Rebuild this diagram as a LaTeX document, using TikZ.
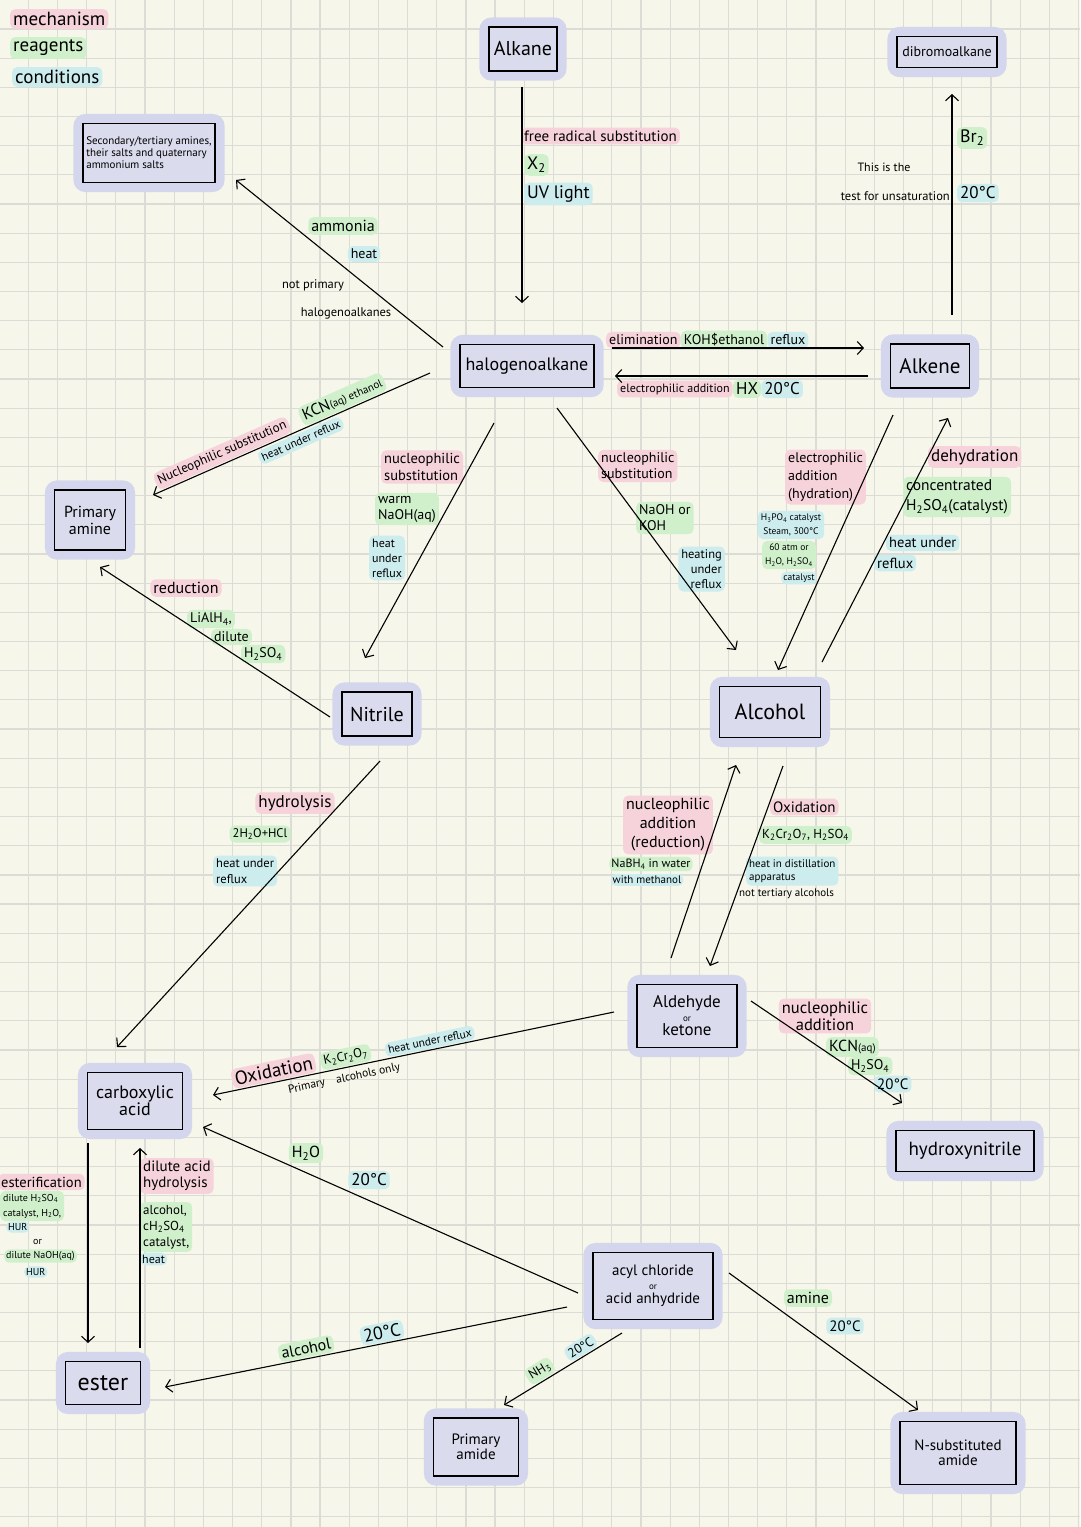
\documentclass[tikz,border=0pt]{standalone}
\usepackage{fontspec}
\setmainfont{PT Sans}
\usetikzlibrary{arrows.meta,fit}
\pgfdeclarelayer{gridl}
\pgfdeclarelayer{blobl}
\pgfsetlayers{gridl,blobl,main}
\definecolor{bgcol}{RGB}{246,246,234}
\definecolor{gridcol}{RGB}{219,220,213}
\definecolor{blobcol}{RGB}{211,214,236}
\definecolor{boxfill}{RGB}{218,220,238}
\definecolor{pinkhl}{RGB}{246,210,218}
\definecolor{greenhl}{RGB}{208,240,204}
\definecolor{bluehl}{RGB}{204,236,238}
\newcommand\fz[2]{\fontsize{#1}{#2}\selectfont}
\newcommand\sbs[1]{\textsubscript{#1}}
\begin{document}
\begin{tikzpicture}[x=1pt,y=-1pt,
 box/.style={draw, line width=1.2pt, fill=boxfill, inner sep=1pt, align=center},
 blob/.style={fill=blobcol, rounded corners=12pt, inner sep=9pt},
 hp/.style={fill=pinkhl, rounded corners=5pt, inner sep=3pt},
 hg/.style={fill=greenhl, rounded corners=5pt, inner sep=3pt},
 hb/.style={fill=bluehl, rounded corners=5pt, inner sep=3pt},
 pl/.style={inner sep=2pt},
 arr/.style={-{Straight Barb[length=6pt,width=13pt]}, line width=1.1pt},
]
\useasboundingbox (0,0) rectangle (1080,1527);
\begin{pgfonlayer}{gridl}
\fill[bgcol] (0,0) rectangle (1080,1527);
\foreach \k in {0,...,37} \draw[gridcol, line width=1.2pt] ({-0.8+29.17*\k},0) -- ({-0.8+29.17*\k},1527);
\foreach \k in {0,...,52} \draw[gridcol, line width=1.2pt] (0,{-0.2+29.17*\k}) -- (1080,{-0.2+29.17*\k});
\end{pgfonlayer}

% legend
\node[hp, anchor=west, font=\fz{19}{19}] (lg1) at (10,19) {mechanism};
\node[hg, anchor=west, font=\fz{19}{19}] (lg2) at (10,48) {reagents};
\node[hb, anchor=west, font=\fz{19}{19}] (lg3) at (12,77) {conditions};

% boxes
\node[box, minimum width=68pt, minimum height=44pt, font=\fz{20}{20}] (alk) at (523,49) {Alkane};
\node[box, minimum width=100pt, minimum height=31pt, font=\fz{14}{14}] (dib) at (947,52) {dibromoalkane};
\node[box, minimum width=134pt, minimum height=43pt, font=\fz{18}{18}] (halo) at (527,366) {halogenoalkane};
\node[box, minimum width=79pt, minimum height=44pt, font=\fz{21}{21}] (alke) at (930,366) {Alkene};
\node[box, minimum width=132pt, minimum height=59pt, font=\fz{11}{12}, align=left] (sec) at (149,153) {Secondary/tertiary amines,\\their salts and quaternary\\ammonium salts};
\node[box, minimum width=71pt, minimum height=60pt, font=\fz{16}{17}] (pam) at (90,520) {Primary\\amine};
\node[box, minimum width=70pt, minimum height=44pt, font=\fz{20}{20}] (nit) at (377,714) {Nitrile};
\node[box, minimum width=101pt, minimum height=51pt, font=\fz{22}{22}] (alc) at (770,712) {Alcohol};
\node[box, minimum width=100pt, minimum height=63pt, font=\fz{17}{14}] (ald) at (687,1016) {Aldehyde\\{\fz{9}{9}or}\\ketone};
\node[box, minimum width=138pt, minimum height=41pt, font=\fz{19}{19}] (hyd) at (965,1151) {hydroxynitrile};
\node[box, minimum width=95pt, minimum height=57pt, font=\fz{18}{17}] (carb) at (135,1101) {carboxylic\\acid};
\node[box, minimum width=75pt, minimum height=43pt, font=\fz{24}{24}] (est) at (103,1383) {ester};
\node[box, minimum width=120pt, minimum height=67pt, font=\fz{15}{14}] (acyl) at (653,1286) {acyl chloride\\{\fz{9}{9}or}\\acid anhydride};
\node[box, minimum width=85pt, minimum height=58pt, font=\fz{15}{15}] (pamd) at (476,1447) {Primary\\amide};
\node[box, minimum width=116pt, minimum height=63pt, font=\fz{15}{15}] (nsub) at (958,1453) {N-substituted\\amide};

\begin{pgfonlayer}{blobl}
\foreach \b in {alk,dib,halo,alke,sec,pam,nit,alc,ald,hyd,carb,est,acyl,pamd,nsub}
  \node[blob, fit=(\b)] (blob-\b) {};
\end{pgfonlayer}

% labels
\node[hp, anchor=west, font=\fz{15}{15}] (l1a) at (521,136) {free radical substitution};
\node[hg, anchor=west, font=\fz{18}{18}] (l1b) at (524,165) {X\sbs{2}};
\node[hb, anchor=west, font=\fz{18}{18}] (l1c) at (524,194) {UV light};

\node[hg, anchor=west, font=\fz{18}{18}] (l4a) at (957,138) {Br\sbs{2}};
\node[hb, anchor=west, font=\fz{17}{17}] (l4b) at (957,193) {20°C};
\node[pl, font=\fz{12}{12}] (l4c) at (884,167) {This is the};
\node[pl, anchor=east, font=\fz{12.5}{12.5}] (l4d) at (952,196) {test for unsaturation};

\node[hp, anchor=west, font=\fz{14}{14}] (l2a) at (606,340) {elimination};
\node[hg, anchor=west, font=\fz{14}{14}] (l2b) at (l2a.east) {KOH\$ethanol};
\node[hb, anchor=west, font=\fz{14}{14}] (l2c) at (l2b.east) {reflux};

\node[hp, anchor=west, font=\fz{12}{12}] (l3a) at (617,389) {electrophilic addition};
\node[hg, anchor=west, font=\fz{17}{17}] (l3b) at (l3a.east) {HX};
\node[hb, anchor=west, font=\fz{17}{17}] (l3c) at (l3b.east) {20°C};

\node[hg, font=\fz{16}{16}] (l5a) at (343,226) {ammonia};
\node[hb, font=\fz{14}{14}] (l5b) at (364,254) {heat};
\node[pl, font=\fz{12.5}{12.5}] (l5c) at (313,285) {not primary};
\node[pl, font=\fz{12.5}{12.5}] (l5d) at (346,313) {halogenoalkanes};

\node[hp, anchor=west, font=\fz{14.5}{17}, align=left] (l7a) at (381,467) {nucleophilic\\substitution};
\node[hg, anchor=west, font=\fz{14}{16}, align=left] (l7b) at (375,509) {warm\\NaOH(aq)};
\node[hb, anchor=west, font=\fz{12}{15}, align=left] (l7c) at (369,558) {heat\\under\\reflux};

\node[hp, font=\fz{16}{16}] (l8a) at (186,588) {reduction};
\node[hg, anchor=west, font=\fz{14}{14}] (l8b) at (187,619) {LiAlH\sbs{4},};
\node[hg, anchor=west, font=\fz{14}{14}] (l8c) at (211,637) {dilute};
\node[hg, anchor=west, font=\fz{14}{14}] (l8d) at (241,654) {H\sbs{2}SO\sbs{4}};

\node[hp, anchor=west, font=\fz{14}{16}, align=left] (l9a) at (598,466) {nucleophilic\\substitution};
\node[hg, anchor=west, font=\fz{14}{16}, align=left] (l9b) at (636,518) {NaOH or\\KOH};
\node[hb, anchor=east, font=\fz{12.5}{15}, align=right] (l9c) at (725,569) {heating\\under\\reflux};

\node[hp, anchor=west, font=\fz{14}{18}, align=left] (l10a) at (785,477) {electrophilic\\addition\\(hydration)};
\node[hb, font=\fz{9.5}{14}, align=center] (l10b) at (791,525) {H\sbs{3}PO\sbs{4} catalyst\\Steam, 300°C};
\node[hg, font=\fz{9.5}{14}, align=center] (l10c) at (789,555) {60 atm or\\H\sbs{2}O, H\sbs{2}SO\sbs{4}};
\node[hb, font=\fz{9.5}{9.5}, inner sep=2pt] (l10d) at (799,578) {catalyst};

\node[hp, anchor=west, font=\fz{17}{17}] (l11a) at (928,457) {dehydration};
\node[hg, anchor=west, font=\fz{15.5}{20}, align=left] (l11b) at (903,497) {concentrated\\H\sbs{2}SO\sbs{4}(catalyst)};
\node[hb, anchor=west, font=\fz{14.5}{14.5}] (l11c) at (886,543) {heat under};
\node[hb, anchor=west, font=\fz{14.5}{14.5}] (l11d) at (874,563) {reflux};

\node[hp, anchor=west, font=\fz{15}{15}] (l12a) at (770,807) {Oxidation};
\node[hg, anchor=west, font=\fz{13}{13}] (l12b) at (759,835) {K\sbs{2}Cr\sbs{2}O\sbs{7}, H\sbs{2}SO\sbs{4}};
\node[hb, anchor=west, font=\fz{11}{13}, align=left] (l12c) at (746,871) {heat in distillation\\apparatus};
\node[pl, anchor=west, font=\fz{11}{11}] (l12d) at (737,894) {not tertiary alcohols};

\node[hp, font=\fz{16}{19}, align=center] (l13a) at (668,825) {nucleophilic\\addition\\(reduction)};
\node[hg, font=\fz{12}{12}, inner sep=2pt] (l13b) at (651,864) {NaBH\sbs{4} in water};
\node[hb, font=\fz{11}{11}, inner sep=2pt] (l13c) at (647,880) {with methanol};

\node[hp, font=\fz{16.5}{17}, align=center] (l14a) at (825,1016) {nucleophilic\\addition};
\node[hg, anchor=west, font=\fz{16}{16}] (l14b) at (826,1047) {KCN{\fz{11}{11}(aq)}};
\node[hg, anchor=west, font=\fz{14}{14}] (l14c) at (848,1066) {H\sbs{2}SO\sbs{4}};
\node[hb, anchor=west, font=\fz{15}{15}] (l14d) at (874,1084) {20°C};

\node[hp, font=\fz{17}{17}] (l16a) at (295,803) {hydrolysis};
\node[hg, font=\fz{12.5}{12.5}] (l16b) at (260,834) {2H\sbs{2}O+HCl};
\node[hb, anchor=west, font=\fz{12.5}{16}, align=left] (l16c) at (213,871) {heat under\\reflux};

\node[hg, font=\fz{16}{16}] (l17a) at (306,1153) {H\sbs{2}O};
\node[hb, font=\fz{17}{17}] (l17b) at (369,1180) {20°C};

\node[hp, anchor=west, font=\fz{14.5}{14.5}] (l18a) at (-2,1182) {esterification};
\node[hg, anchor=west, font=\fz{10}{15}, align=left] (l18b) at (0,1206) {dilute H\sbs{2}SO\sbs{4}\\catalyst, H\sbs{2}O,};
\node[hb, anchor=west, font=\fz{10}{10}, inner sep=2pt] (l18c) at (6,1227) {HUR};
\node[pl, anchor=west, font=\fz{10}{10}] (l18d) at (31,1242) {or};
\node[hg, anchor=west, font=\fz{10}{10}, inner sep=2pt] (l18e) at (4,1256) {dilute NaOH(aq)};
\node[hb, anchor=west, font=\fz{10}{10}, inner sep=2pt] (l18f) at (24,1272) {HUR};

\node[hp, anchor=west, font=\fz{15}{16}, align=left] (l19a) at (140,1176) {dilute acid\\hydrolysis};
\node[hg, anchor=west, font=\fz{13}{16}, align=left] (l19b) at (140,1227) {alcohol,\\cH\sbs{2}SO\sbs{4}\\catalyst,};
\node[hb, anchor=west, font=\fz{12}{12}, inner sep=2pt] (l19c) at (140,1259) {heat};

\node[hg, font=\fz{16}{16}] (l22a) at (808,1298) {amine};
\node[hb, font=\fz{15}{15}] (l22b) at (845,1326) {20°C};

% connector end points
\coordinate (a1s) at (522,87);   \coordinate (a1e) at (522,303);
\coordinate (a2s) at (612,348);  \coordinate (a2e) at (864,348);
\coordinate (a3s) at (868,376);  \coordinate (a3e) at (615,376);
\coordinate (a4s) at (952,315);  \coordinate (a4e) at (952,94);
\coordinate (a5s) at (443,347);  \coordinate (a5e) at (236,180);
\coordinate (a6s) at (430,373);  \coordinate (a6e) at (153,495);
\coordinate (a7s) at (494,423);  \coordinate (a7e) at (365,658);
\coordinate (a8s) at (330,717);  \coordinate (a8e) at (100,567);
\coordinate (a9s) at (557,408);  \coordinate (a9e) at (736,650);
\coordinate (a10s) at (893,415); \coordinate (a10e) at (778,670);
\coordinate (a11s) at (822,662); \coordinate (a11e) at (948,418);
\coordinate (a12s) at (783,766); \coordinate (a12e) at (710,966);
\coordinate (a13s) at (671,958); \coordinate (a13e) at (736,765);
\coordinate (a14s) at (751,1001); \coordinate (a14e) at (902,1103);
\coordinate (a15s) at (614,1012); \coordinate (a15e) at (213,1095);
\coordinate (a16s) at (380,761); \coordinate (a16e) at (117,1047);
\coordinate (a17s) at (578,1293); \coordinate (a17e) at (203,1127);
\coordinate (a18s) at (88,1143); \coordinate (a18e) at (88,1343);
\coordinate (a19s) at (140,1348); \coordinate (a19e) at (140,1148);
\coordinate (a20s) at (567,1307); \coordinate (a20e) at (165,1387);
\coordinate (a21s) at (622,1333); \coordinate (a21e) at (504,1405);
\coordinate (a22s) at (729,1273); \coordinate (a22e) at (918,1410);

% connectors
\draw[arr] (a1s) -- (a1e);
\draw[arr] (a2s) -- (a2e);
\draw[arr] (a3s) -- (a3e);
\draw[arr] (a4s) -- (a4e);
\draw[arr] (a5s) -- (a5e);
\draw[arr] (a6s) -- (a6e)
  node[pos=0.30, sloped, above=1pt, hg, font=\fz{16}{16}] (l6b) {KCN{\fz{11}{11}(aq) ethanol}}
  node[pos=0.735, sloped, above=1pt, hp, font=\fz{13}{13}] (l6a) {Nucleophilic substitution}
  node[pos=0.48, sloped, below=2pt, hb, font=\fz{11.5}{11.5}] (l6c) {heat under reflux};
\draw[arr] (a7s) -- (a7e);
\draw[arr] (a8s) -- (a8e);
\draw[arr] (a9s) -- (a9e);
\draw[arr] (a10s) -- (a10e);
\draw[arr] (a11s) -- (a11e);
\draw[arr] (a12s) -- (a12e);
\draw[arr] (a13s) -- (a13e);
\draw[arr] (a14s) -- (a14e);
\draw[arr] (a15s) -- (a15e)
  node[pos=0.843, sloped, above=1pt, hp, font=\fz{19}{19}] (l15a) {Oxidation}
  node[pos=0.664, sloped, above=1pt, hg, font=\fz{13}{13}] (l15b) {K\sbs{2}Cr\sbs{2}O\sbs{7}}
  node[pos=0.455, sloped, above=1pt, hb, font=\fz{11.5}{11.5}] (l15c) {heat under reflux}
  node[pos=0.678, sloped, below=3pt, pl, font=\fz{11.5}{11.5}] (l15d) {Primary\quad alcohols only};
\draw[arr] (a16s) -- (a16e);
\draw[arr] (a17s) -- (a17e);
\draw[arr] (a18s) -- (a18e);
\draw[arr] (a19s) -- (a19e);
\draw[arr] (a20s) -- (a20e)
  node[pos=0.644, sloped, above=1pt, hg, font=\fz{16}{16}] (l20a) {alcohol}
  node[pos=0.455, sloped, above=1pt, hb, font=\fz{18}{18}] (l20b) {20°C};
\draw[arr] (a21s) -- (a21e)
  node[pos=0.65, sloped, above=1pt, hg, font=\fz{13}{13}] (l21a) {NH\sbs{3}}
  node[pos=0.31, sloped, above=1pt, hb, font=\fz{13}{13}] (l21b) {20°C};
\draw[arr] (a22s) -- (a22e);
\end{tikzpicture}
\end{document}
